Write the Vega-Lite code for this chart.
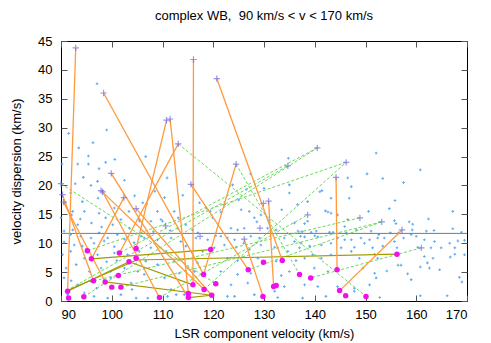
{
  "$schema": "https://vega.github.io/schema/vega-lite/v6.json",
  "autosize": {"type": "none"},
  "padding": {"left": 61, "top": 41, "right": 24, "bottom": 42},
  "width": 406,
  "height": 260,
  "title": {"text": "complex WB, \u00a090 km/s < v < 170 km/s", "font": "Liberation Sans", "fontSize": 13, "fontWeight": "normal", "offset": 12},
  "config": {
    "view": {"stroke": "black", "strokeWidth": 1},
    "font": "Liberation Sans",
    "axis": {"labelFont": "Liberation Sans", "titleFont": "Liberation Sans", "labelFontSize": 13, "titleFontSize": 13, "titleFontWeight": "normal", "labelColor": "black", "titleColor": "black", "grid": false, "domain": false, "tickColor": "#555", "tickSize": -6, "tickWidth": 1}
  },
  "datasets": {
    "dots": [
      {"x":97.1,"y":37.6},{"x":99.0,"y":29.6},{"x":96.3,"y":27.4},{"x":95.4,"y":25.1},{"x":100.6,"y":24.5},{"x":93.3,"y":23.7},{"x":95.4,"y":23.7},{"x":90.2,"y":23.7},{"x":98.8,"y":24.0},{"x":97.5,"y":22.9},
      {"x":94.4,"y":21.4},{"x":97.2,"y":20.7},{"x":95.9,"y":20.0},{"x":91.9,"y":18.7},{"x":97.3,"y":17.8},{"x":94.2,"y":17.2},{"x":92.3,"y":15.5},{"x":92.1,"y":14.9},{"x":90.0,"y":14.4},{"x":94.6,"y":15.5},
      {"x":97.5,"y":15.2},{"x":98.8,"y":14.4},{"x":100.2,"y":13.2},{"x":100.5,"y":16.1},{"x":101.8,"y":14.1},{"x":103.4,"y":15.5},{"x":92.3,"y":12.3},{"x":93.3,"y":13.2},{"x":90.6,"y":12.1},{"x":91.9,"y":11.5},
      {"x":93.9,"y":11.2},{"x":95.9,"y":10.9},{"x":97.5,"y":11.8},{"x":99.2,"y":10.9},{"x":101.1,"y":11.5},{"x":90.6,"y":10.2},{"x":92.6,"y":9.7},{"x":94.2,"y":9.5},{"x":96.5,"y":10.0},{"x":98.5,"y":10.4},
      {"x":100.5,"y":9.4},{"x":102.5,"y":10.7},{"x":104.4,"y":10.1},{"x":90.3,"y":8.0},{"x":91.9,"y":8.6},{"x":94.6,"y":7.4},{"x":97.2,"y":8.0},{"x":100.5,"y":8.3},{"x":103.1,"y":8.0},{"x":105.4,"y":8.6},
      {"x":91.0,"y":5.7},{"x":93.0,"y":6.3},{"x":95.6,"y":5.1},{"x":97.9,"y":5.7},{"x":99.8,"y":5.1},{"x":102.5,"y":5.7},{"x":105.1,"y":5.1},{"x":90.6,"y":4.0},{"x":93.3,"y":2.8},{"x":95.9,"y":3.4},
      {"x":99.8,"y":4.0},{"x":103.8,"y":3.1},{"x":91.3,"y":1.1},{"x":94.6,"y":1.4},{"x":96.5,"y":0.8},{"x":99.2,"y":0.5},{"x":101.8,"y":1.1},{"x":104.8,"y":0.5},{"x":90.8,"y":17.0},{"x":92.8,"y":20.3},
      {"x":96.0,"y":13.5},{"x":98.0,"y":12.8},{"x":103.5,"y":12.6},{"x":105.5,"y":13.8},{"x":104.5,"y":18.2},{"x":102.5,"y":20.9},{"x":93.8,"y":14.2},{"x":95.0,"y":9.0},{"x":99.0,"y":6.8},{"x":101.0,"y":7.0},
      {"x":92.0,"y":3.5},{"x":97.0,"y":2.2},{"x":104.0,"y":2.0},{"x":105.8,"y":11.2},{"x":93.5,"y":26.5},{"x":91.5,"y":29.0},
      {"x":106.7,"y":25.0},{"x":110.9,"y":21.3},{"x":110.4,"y":17.9},{"x":106.1,"y":17.0},{"x":106.9,"y":16.8},{"x":109.0,"y":15.5},{"x":109.7,"y":14.1},{"x":112.3,"y":15.5},{"x":113.1,"y":14.4},{"x":117.3,"y":17.0},
      {"x":118.6,"y":16.1},{"x":119.4,"y":15.5},{"x":119.9,"y":14.4},{"x":105.4,"y":14.1},{"x":107.7,"y":13.8},{"x":110.0,"y":13.8},{"x":113.0,"y":12.6},{"x":114.6,"y":13.2},{"x":115.9,"y":12.3},{"x":106.4,"y":10.9},
      {"x":109.0,"y":10.6},{"x":111.7,"y":10.9},{"x":113.6,"y":10.3},{"x":116.6,"y":10.9},{"x":118.9,"y":10.6},{"x":107.7,"y":9.2},{"x":110.7,"y":8.6},{"x":114.6,"y":9.5},{"x":117.9,"y":8.6},{"x":120.2,"y":9.2},
      {"x":106.7,"y":6.9},{"x":109.0,"y":6.3},{"x":112.3,"y":6.9},{"x":115.0,"y":5.7},{"x":116.9,"y":6.6},{"x":106.4,"y":4.6},{"x":110.4,"y":4.0},{"x":113.3,"y":4.8},{"x":116.3,"y":5.1},{"x":111.7,"y":2.0},
      {"x":112.7,"y":1.1},{"x":114.3,"y":1.1},{"x":107.1,"y":0.5},{"x":111.0,"y":0.8},{"x":108.2,"y":12.0},{"x":111.5,"y":12.2},{"x":117.0,"y":11.8},{"x":120.5,"y":11.3},{"x":108.5,"y":19.0},{"x":114.0,"y":18.3},
      {"x":134.8,"y":24.7},{"x":127.4,"y":22.0},{"x":135.0,"y":20.1},{"x":126.5,"y":19.3},{"x":123.8,"y":20.1},{"x":135.0,"y":18.7},{"x":136.6,"y":16.7},{"x":122.2,"y":16.7},{"x":121.5,"y":15.4},{"x":125.5,"y":15.8},
      {"x":127.1,"y":15.5},{"x":129.4,"y":14.9},{"x":128.1,"y":14.4},{"x":128.6,"y":13.7},{"x":136.0,"y":13.5},{"x":123.5,"y":12.6},{"x":124.8,"y":12.3},{"x":126.1,"y":12.6},{"x":130.7,"y":12.6},{"x":132.4,"y":12.3},
      {"x":121.5,"y":11.2},{"x":122.8,"y":10.9},{"x":124.2,"y":10.6},{"x":127.4,"y":11.2},{"x":129.1,"y":10.9},{"x":134.0,"y":10.9},{"x":136.0,"y":10.3},{"x":122.2,"y":9.7},{"x":124.5,"y":9.3},{"x":127.1,"y":8.9},
      {"x":129.4,"y":9.7},{"x":132.1,"y":9.3},{"x":134.7,"y":8.6},{"x":137.0,"y":9.2},{"x":122.8,"y":7.4},{"x":124.8,"y":7.0},{"x":128.8,"y":7.4},{"x":132.4,"y":6.9},{"x":136.3,"y":7.0},{"x":121.5,"y":5.1},
      {"x":124.8,"y":4.6},{"x":127.4,"y":4.8},{"x":133.4,"y":4.4},{"x":135.0,"y":5.1},{"x":123.5,"y":2.8},{"x":126.8,"y":3.1},{"x":132.1,"y":1.7},{"x":134.0,"y":2.5},{"x":122.8,"y":0.8},{"x":124.2,"y":0.8},
      {"x":128.1,"y":1.1},{"x":132.7,"y":0.6},{"x":131.0,"y":14.0},{"x":133.5,"y":15.8},{"x":125.0,"y":17.5},{"x":130.0,"y":19.5},{"x":137.5,"y":12.0},{"x":126.0,"y":10.0},
      {"x":152.1,"y":25.6},{"x":150.3,"y":22.0},{"x":146.5,"y":21.3},{"x":147.2,"y":19.8},{"x":141.0,"y":18.9},{"x":141.4,"y":19.1},{"x":138.6,"y":17.2},{"x":143.2,"y":17.8},{"x":146.8,"y":17.8},{"x":150.6,"y":15.5},
      {"x":142.1,"y":15.6},{"x":142.6,"y":15.4},{"x":143.2,"y":15.2},{"x":144.5,"y":14.9},{"x":146.5,"y":14.1},{"x":138.6,"y":13.8},{"x":138.0,"y":13.4},{"x":145.9,"y":12.9},{"x":136.7,"y":12.1},{"x":139.3,"y":11.9},
      {"x":140.3,"y":12.1},{"x":142.9,"y":11.9},{"x":143.6,"y":11.9},{"x":146.2,"y":11.8},{"x":148.2,"y":12.3},{"x":151.1,"y":12.1},{"x":137.2,"y":11.2},{"x":138.0,"y":11.1},{"x":140.0,"y":11.3},{"x":140.6,"y":11.1},
      {"x":144.5,"y":10.9},{"x":145.9,"y":10.6},{"x":147.2,"y":10.6},{"x":149.1,"y":10.9},{"x":150.8,"y":10.6},{"x":152.4,"y":10.9},{"x":137.3,"y":10.0},{"x":139.0,"y":9.5},{"x":141.3,"y":9.7},{"x":143.2,"y":10.0},
      {"x":145.2,"y":9.2},{"x":147.8,"y":9.3},{"x":149.8,"y":10.0},{"x":151.4,"y":9.2},{"x":138.0,"y":7.4},{"x":139.6,"y":8.0},{"x":141.3,"y":7.4},{"x":143.2,"y":8.0},{"x":147.2,"y":8.6},{"x":148.8,"y":7.4},
      {"x":151.8,"y":8.1},{"x":139.9,"y":5.7},{"x":142.6,"y":5.1},{"x":149.5,"y":5.7},{"x":151.8,"y":4.8},{"x":152.1,"y":4.0},{"x":138.0,"y":2.8},{"x":140.6,"y":2.5},{"x":144.5,"y":2.5},{"x":147.8,"y":2.2},
      {"x":150.8,"y":2.8},{"x":137.6,"y":0.5},{"x":142.2,"y":0.8},{"x":147.8,"y":1.7},
      {"x":153.4,"y":21.2},{"x":157.5,"y":20.5},{"x":160.8,"y":22.7},{"x":155.8,"y":17.4},{"x":154.7,"y":16.0},{"x":167.2,"y":15.5},{"x":162.4,"y":14.2},{"x":155.7,"y":13.9},{"x":156.0,"y":13.4},{"x":158.6,"y":13.7},
      {"x":159.3,"y":13.3},{"x":159.2,"y":12.3},{"x":167.2,"y":12.5},{"x":162.0,"y":12.1},{"x":163.5,"y":12.2},{"x":152.6,"y":11.5},{"x":154.9,"y":11.8},{"x":156.5,"y":11.8},{"x":159.0,"y":11.5},{"x":168.9,"y":11.9},
      {"x":169.5,"y":10.5},{"x":153.7,"y":10.9},{"x":155.7,"y":10.3},{"x":157.5,"y":10.9},{"x":160.0,"y":11.2},{"x":161.6,"y":10.6},{"x":163.6,"y":10.3},{"x":166.6,"y":10.0},{"x":168.2,"y":10.4},{"x":153.4,"y":9.5},
      {"x":156.2,"y":9.2},{"x":160.3,"y":9.3},{"x":162.9,"y":9.2},{"x":164.9,"y":9.2},{"x":167.6,"y":9.2},{"x":169.5,"y":8.0},{"x":152.4,"y":7.4},{"x":161.6,"y":7.7},{"x":163.3,"y":7.4},{"x":166.7,"y":7.6},
      {"x":167.6,"y":8.1},{"x":154.2,"y":5.2},{"x":156.4,"y":6.2},{"x":157.0,"y":6.2},{"x":158.3,"y":4.7},{"x":159.0,"y":3.7},{"x":160.8,"y":5.9},{"x":162.2,"y":6.6},{"x":162.6,"y":5.7},{"x":164.6,"y":5.4},
      {"x":168.5,"y":4.1},{"x":169.0,"y":3.3},{"x":152.8,"y":0.6},{"x":160.8,"y":0.9},{"x":166.1,"y":0.9}
    ],
    "segs": [
      {"t":"orange","x":92.9,"y":43.8,"x2":91.3,"y2":1.7},
      {"t":"orange","x":98.4,"y":36.0,"x2":118.1,"y2":4.6},
      {"t":"orange","x":110.8,"y":31.3,"x2":104.8,"y2":9.1},
      {"t":"orange","x":111.5,"y":31.5,"x2":115.1,"y2":1.3},
      {"t":"orange","x":116.1,"y":41.8,"x2":116.0,"y2":2.8},
      {"t":"orange","x":120.7,"y":38.5,"x2":133.6,"y2":7.0},
      {"t":"orange","x":124.5,"y":23.7,"x2":118.1,"y2":4.6},
      {"t":"orange","x":130.9,"y":17.3,"x2":131.9,"y2":2.5},
      {"t":"orange","x":126.1,"y":10.7,"x2":129.8,"y2":0.8},
      {"t":"orange","x":115.6,"y":20.2,"x2":126.9,"y2":5.4},
      {"t":"orange","x":144.2,"y":21.4,"x2":144.4,"y2":5.4},
      {"t":"orange","x":157.2,"y":12.3,"x2":144.9,"y2":1.8},
      {"t":"orange","x":98.2,"y":18.9,"x2":109.4,"y2":0.6},
      {"t":"orange","x":97.9,"y":19.1,"x2":118.2,"y2":2.0},
      {"t":"orange","x":99.9,"y":22.1,"x2":115.1,"y2":0.6},
      {"t":"orange","x":102.4,"y":17.9,"x2":96.0,"y2":7.3},
      {"t":"orange","x":104.8,"y":16.0,"x2":119.7,"y2":1.0},
      {"t":"orange","x":113.1,"y":27.2,"x2":101.5,"y2":8.3},
      {"t":"orange","x":90.3,"y":18.4,"x2":96.4,"y2":3.5},
      {"t":"orange","x":90.5,"y":17.1,"x2":98.7,"y2":3.3},
      {"t":"olive","x":91.3,"y":1.7,"x2":103.4,"y2":6.8},
      {"t":"olive","x":91.5,"y":1.9,"x2":104.9,"y2":7.1},
      {"t":"olive","x":104.9,"y":7.1,"x2":156.2,"y2":8.1},
      {"t":"olive","x":96.0,"y":7.3,"x2":119.5,"y2":8.9},
      {"t":"olive","x":98.7,"y":3.3,"x2":119.7,"y2":1.0},
      {"t":"olive","x":115.1,"y":0.6,"x2":119.7,"y2":1.0},
      {"t":"olive","x":103.4,"y":6.8,"x2":116.0,"y2":2.8},
      {"t":"green","x":90.0,"y":20.3,"x2":120.5,"y2":3.0},
      {"t":"green","x":113.1,"y":27.2,"x2":150.1,"y2":0.8},
      {"t":"green","x":140.5,"y":26.5,"x2":101.5,"y2":8.3},
      {"t":"green","x":146.2,"y":24.0,"x2":95.2,"y2":8.7},
      {"t":"green","x":153.2,"y":13.7,"x2":126.9,"y2":5.4},
      {"t":"green","x":161.0,"y":9.2,"x2":139.2,"y2":4.0},
      {"t":"green","x":91.1,"y":1.8,"x2":134.7,"y2":23.4},
      {"t":"green","x":94.5,"y":0.75,"x2":140.5,"y2":26.5},
      {"t":"green","x":96.5,"y":3.5,"x2":148.9,"y2":14.4},
      {"t":"green","x":101.8,"y":2.4,"x2":153.2,"y2":13.7},
      {"t":"green","x":109.4,"y":0.6,"x2":138.6,"y2":14.9},
      {"t":"green","x":118.2,"y":2.0,"x2":146.2,"y2":24.0},
      {"t":"green","x":124.5,"y":23.7,"x2":137.0,"y2":4.6}
    ],
    "mag": [
      {"x":91.3,"y":1.7},{"x":91.5,"y":0.5},{"x":94.5,"y":0.75},{"x":95.2,"y":8.7},{"x":96.0,"y":7.3},{"x":96.4,"y":3.5},{"x":98.7,"y":3.3},{"x":100.0,"y":2.4},{"x":101.8,"y":2.4},{"x":101.5,"y":8.3},
      {"x":101.3,"y":4.4},{"x":103.4,"y":6.8},{"x":104.8,"y":7.4},{"x":104.8,"y":9.1},{"x":109.4,"y":0.6},{"x":115.1,"y":1.3},{"x":115.1,"y":0.6},{"x":116.0,"y":2.8},{"x":118.2,"y":2.0},{"x":118.1,"y":4.6},
      {"x":119.5,"y":8.9},{"x":119.7,"y":1.0},{"x":120.5,"y":3.0},{"x":126.9,"y":5.4},{"x":129.9,"y":6.7},{"x":129.8,"y":0.8},{"x":131.9,"y":2.5},{"x":132.4,"y":2.7},{"x":133.6,"y":7.0},{"x":137.0,"y":4.6},
      {"x":139.2,"y":4.0},{"x":144.4,"y":5.4},{"x":144.9,"y":1.8},{"x":146.1,"y":0.9},{"x":150.1,"y":0.8},{"x":156.2,"y":8.1}
    ],
    "plus": [
      {"x":92.9,"y":43.8},{"x":98.4,"y":36.0},{"x":90.0,"y":20.3},{"x":90.3,"y":18.4},{"x":90.5,"y":17.1},{"x":99.9,"y":22.1},{"x":98.2,"y":18.9},{"x":97.9,"y":19.1},{"x":102.4,"y":17.9},{"x":104.8,"y":16.0},
      {"x":110.8,"y":31.3},{"x":111.5,"y":31.5},{"x":116.1,"y":41.8},{"x":113.1,"y":27.2},{"x":115.6,"y":20.2},{"x":120.7,"y":38.5},{"x":110.6,"y":13.0},{"x":117.4,"y":11.2},{"x":124.5,"y":23.7},{"x":134.7,"y":23.4},
      {"x":130.9,"y":17.3},{"x":129.9,"y":16.9},{"x":126.1,"y":10.7},{"x":129.2,"y":12.6},{"x":140.5,"y":26.5},{"x":146.2,"y":24.0},{"x":144.2,"y":21.4},{"x":148.9,"y":14.4},{"x":138.6,"y":14.9},{"x":153.2,"y":13.7},
      {"x":157.2,"y":12.3},{"x":161.0,"y":9.2}
    ]
  },
  "resolve": {"axis": {"x": "independent", "y": "independent"}},
  "layer": [
    {
      "data": {"name": "dots"},
      "mark": {"type": "point", "shape": "cross", "filled": true, "size": 7, "color": "#4da3f5", "opacity": 0.9},
      "encoding": {
        "x": {"field": "x", "type": "quantitative", "scale": {"domain": [90, 170], "nice": false, "zero": false}, "axis": {"values": [90,100,110,120,130,140,150,160,170], "title": "LSR component velocity (km/s)", "labelPadding": 13, "titlePadding": 6}},
        "y": {"field": "y", "type": "quantitative", "scale": {"domain": [0, 45], "nice": false}, "axis": {"values": [0,5,10,15,20,25,30,35,40,45], "title": "velocity dispersion (km/s)", "labelPadding": 15, "titlePadding": 14}}
      }
    },
    {
      "data": {"values": [{"h": 11.7}]},
      "mark": {"type": "rule", "color": "#7a7a7a", "strokeWidth": 1},
      "encoding": {"y": {"field": "h", "type": "quantitative", "axis": null}}
    },
    {
      "data": {"name": "segs"},
      "transform": [{"filter": "datum.t === 'green'"}],
      "mark": {"type": "rule", "color": "#6ad85a", "strokeWidth": 1, "strokeDash": [3, 2]},
      "encoding": {"x": {"field": "x", "type": "quantitative", "axis": null}, "y": {"field": "y", "type": "quantitative", "axis": null}, "x2": {"field": "x2"}, "y2": {"field": "y2"}}
    },
    {
      "data": {"name": "segs"},
      "transform": [{"filter": "datum.t === 'olive'"}],
      "mark": {"type": "rule", "color": "#a09a00", "strokeWidth": 1.2},
      "encoding": {"x": {"field": "x", "type": "quantitative", "axis": null}, "y": {"field": "y", "type": "quantitative", "axis": null}, "x2": {"field": "x2"}, "y2": {"field": "y2"}}
    },
    {
      "data": {"name": "segs"},
      "transform": [{"filter": "datum.t === 'orange'"}],
      "mark": {"type": "rule", "color": "#ff9a3c", "strokeWidth": 1.3},
      "encoding": {"x": {"field": "x", "type": "quantitative", "axis": null}, "y": {"field": "y", "type": "quantitative", "axis": null}, "x2": {"field": "x2"}, "y2": {"field": "y2"}}
    },
    {
      "data": {"name": "plus"},
      "mark": {"type": "point", "shape": "M-1,0L1,0M0,-1L0,1", "filled": false, "size": 40, "strokeWidth": 1.2, "color": "#6a6ae6"},
      "encoding": {
        "x": {"field": "x", "type": "quantitative", "axis": {"orient": "top", "values": [90,100,110,120,130,140,150,160,170], "labels": false, "title": null}},
        "y": {"field": "y", "type": "quantitative", "axis": {"orient": "right", "values": [0,5,10,15,20,25,30,35,40,45], "labels": false, "title": null}}
      }
    },
    {
      "data": {"name": "mag"},
      "mark": {"type": "circle", "size": 30, "color": "#f010e8", "opacity": 1},
      "encoding": {"x": {"field": "x", "type": "quantitative", "axis": null}, "y": {"field": "y", "type": "quantitative", "axis": null}}
    }
  ]
}
